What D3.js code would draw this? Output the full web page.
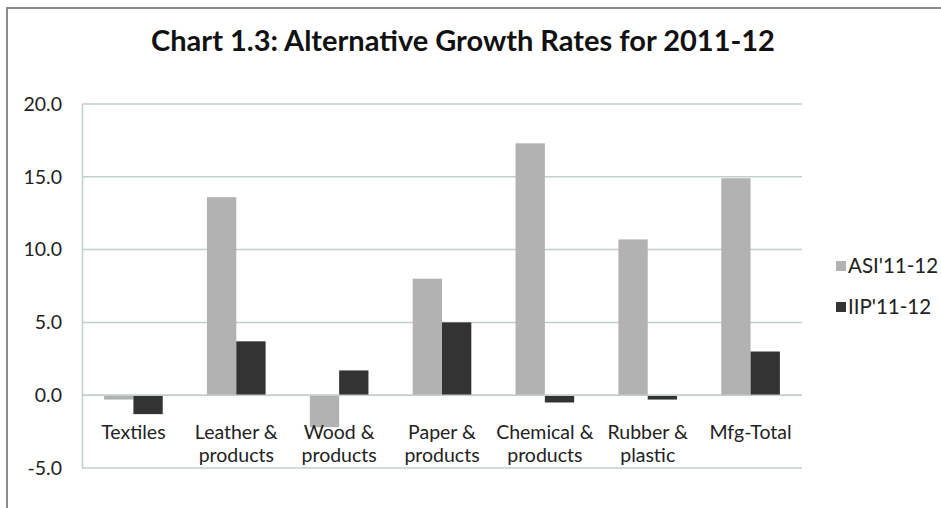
<!DOCTYPE html>
<html>
<head>
<meta charset="utf-8">
<script src="https://cdn.jsdelivr.net/npm/d3@7"></script>
<style>
  html, body { margin: 0; padding: 0; background: #fff; }
  svg { display: block; font-family: Lato, "Open Sans", sans-serif; }
</style>
</head>
<body>
<svg id="chart" width="941" height="508"></svg>
<script>
// Growth rates by industry group, 2011-12
const categories = ["Textiles", "Leather & products", "Wood & products", "Paper & products",
                    "Chemical & products", "Rubber & plastic", "Mfg-Total"];
const categoryLines = [["Textiles"], ["Leather &", "products"], ["Wood &", "products"],
                       ["Paper &", "products"], ["Chemical &", "products"], ["Rubber &", "plastic"],
                       ["Mfg-Total"]];
const seriesNames = ["ASI'11-12", "IIP'11-12"];
const asiValues = [-0.3, 13.6, -2.2, 8.0, 17.3, 10.7, 14.9];
const iipValues = [-1.3, 3.7, 1.7, 5.0, -0.5, -0.3, 3.0];
const yTicks = [-5, 0, 5, 10, 15, 20];
const seriesColors = ["#b2b2b2", "#333333"];

const svg = d3.select("#chart");

// outer chart frame
svg.append("rect")
  .attr("x", 7).attr("y", 8).attr("width", 960).attr("height", 520)
  .attr("fill", "none").attr("stroke", "#8c8c8c").attr("stroke-width", 2);

const plot = { left: 82, right: 802, top: 104, bottom: 468 };

const y = d3.scaleLinear().domain([-5, 20]).range([plot.bottom, plot.top]);
const x = d3.scaleBand().domain(categories).range([plot.left, plot.right]);
const groupFrac = 0.57;
const xs = d3.scaleBand().domain(seriesNames)
  .range([x.bandwidth() * (1 - groupFrac) / 2, x.bandwidth() * (1 + groupFrac) / 2]);

// gridlines
svg.append("g")
  .selectAll("line").data(yTicks).join("line")
  .attr("x1", plot.left).attr("x2", plot.right)
  .attr("y1", d => y(d)).attr("y2", d => y(d))
  .attr("stroke", "#c3cfcf").attr("stroke-width", 1.5);

// value axis, hyphen-minus for negatives
const fmt = d => d.toFixed(1);
const yAxis = svg.append("g")
  .attr("transform", `translate(${plot.left},0)`)
  .call(d3.axisLeft(y).tickValues(yTicks).tickFormat(fmt).tickSize(0).tickPadding(20));
yAxis.select(".domain").attr("stroke", "#c3cfcf").attr("stroke-width", 1.5);
yAxis.selectAll("text").attr("font-size", 19.5).attr("fill", "#222")
  .attr("font-family", "Lato, sans-serif");

// bars
const rows = categories.map((c, i) => ({ c, vals: [asiValues[i], iipValues[i]] }));
const groups = svg.append("g").selectAll("g").data(rows).join("g")
  .attr("transform", d => `translate(${x(d.c)},0)`);
groups.selectAll("rect")
  .data(d => d.vals.map((v, j) => ({ v, s: seriesNames[j], j })))
  .join("rect")
  .attr("x", d => xs(d.s))
  .attr("width", xs.bandwidth())
  .attr("y", d => y(Math.max(0, d.v)))
  .attr("height", d => Math.abs(y(d.v) - y(0)))
  .attr("fill", d => seriesColors[d.j]);

// zero line drawn over bars
svg.append("line")
  .attr("x1", plot.left).attr("x2", plot.right)
  .attr("y1", y(0)).attr("y2", y(0))
  .attr("stroke", "#c3cfcf").attr("stroke-width", 1.5);

// category labels
const lbl = svg.append("g").selectAll("text").data(categories).join("text")
  .attr("text-anchor", "middle")
  .attr("font-size", 19.5).attr("fill", "#222")
  .attr("x", d => x(d) + x.bandwidth() / 2)
  .attr("y", 439);
lbl.selectAll("tspan").data((d, i) => categoryLines[i]).join("tspan")
  .attr("x", function () { return d3.select(this.parentNode).attr("x"); })
  .attr("dy", (d, i) => i === 0 ? 0 : 23)
  .text(d => d);

// title
svg.append("text")
  .attr("x", 463).attr("y", 51)
  .attr("text-anchor", "middle")
  .attr("font-size", 29).attr("font-weight", "bold").attr("fill", "#111")
  .text("Chart 1.3: Alternative Growth Rates for 2011-12");

// legend
const legend = svg.append("g").selectAll("g").data(seriesNames).join("g")
  .attr("transform", (d, i) => `translate(836,${266 + i * 41})`);
legend.append("rect")
  .attr("x", 0).attr("y", -5).attr("width", 10).attr("height", 10)
  .attr("fill", (d, i) => seriesColors[i]);
legend.append("text")
  .attr("x", 12).attr("y", 7)
  .attr("font-size", 20.5).attr("fill", "#222")
  .text(d => d);
</script>
</body>
</html>
